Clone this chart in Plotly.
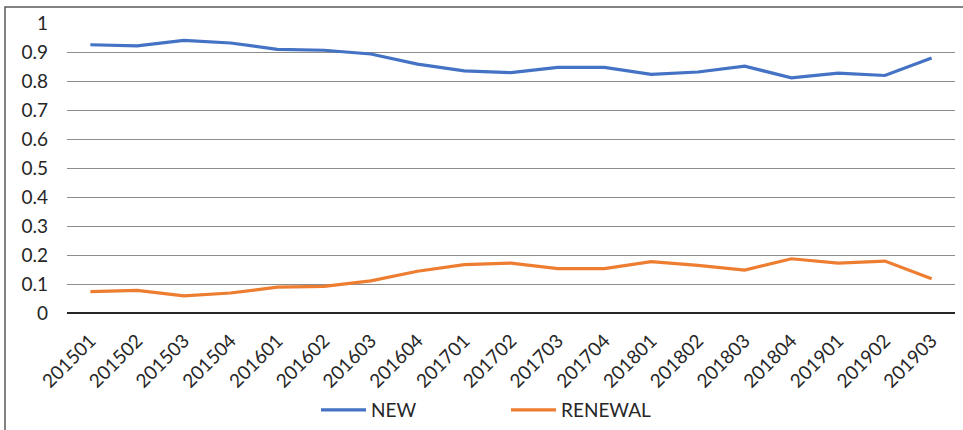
import plotly.graph_objects as go

categories = ["201501", "201502", "201503", "201504", "201601", "201602",
              "201603", "201604", "201701", "201702", "201703", "201704",
              "201801", "201802", "201803", "201804", "201901", "201902", "201903"]
new_values = [0.925, 0.921, 0.940, 0.931, 0.909, 0.906, 0.893, 0.858, 0.835,
              0.829, 0.847, 0.847, 0.823, 0.831, 0.851, 0.811, 0.827, 0.819, 0.879]
renewal_values = [0.074, 0.078, 0.059, 0.069, 0.089, 0.092, 0.111, 0.144, 0.167,
                  0.172, 0.153, 0.153, 0.177, 0.164, 0.148, 0.187, 0.172, 0.179, 0.118]
y_ticks = [0, 0.1, 0.2, 0.3, 0.4, 0.5, 0.6, 0.7, 0.8, 0.9, 1]
y_tick_labels = ["0", "0.1", "0.2", "0.3", "0.4", "0.5", "0.6", "0.7", "0.8", "0.9", "1"]

FONT = "Lato"
TXT = "#262626"

fig = go.Figure()
fig.add_trace(go.Scatter(x=categories, y=new_values, mode="lines", name="NEW",
                         line=dict(color="#4472C4", width=3.2)))
fig.add_trace(go.Scatter(x=categories, y=renewal_values, mode="lines", name="RENEWAL",
                         line=dict(color="#ED7D31", width=3.2)))

fig.update_layout(
    width=963, height=430,
    margin=dict(l=67, r=8, t=23, b=117, autoexpand=False),
    paper_bgcolor="white", plot_bgcolor="white",
    font=dict(family=FONT, size=19, color=TXT),
    showlegend=True,
    legend=dict(orientation="h", xref="container", x=506 / 963, xanchor="center",
                yref="container", y=20 / 430, yanchor="middle",
                font=dict(family=FONT, size=19, color=TXT),
                entrywidth=130, itemwidth=45, traceorder="normal"),
    xaxis=dict(type="category", range=[-0.5, len(categories) - 0.5],
               tickangle=-45, showgrid=False, showline=False, ticks="",
               automargin=False, ticklabelstandoff=12,
               tickfont=dict(family=FONT, size=19, color=TXT), zeroline=False),
    yaxis=dict(range=[0, 1], tickvals=y_ticks, ticktext=y_tick_labels,
               showgrid=True, gridcolor="#8c8c8c", gridwidth=1,
               zeroline=True, zerolinecolor="#262626", zerolinewidth=1.5,
               showline=False, ticks="", ticklabelstandoff=18, automargin=False,
               tickfont=dict(family=FONT, size=19, color=TXT)),
    shapes=[dict(type="rect", xref="paper", yref="paper",
                 x0=-62 / 888, x1=1.1, y0=-0.5, y1=1 + 16 / 290,
                 line=dict(color="#595959", width=1.5), fillcolor="rgba(0,0,0,0)",
                 layer="below")],
)

fig.write_html("out.html")
